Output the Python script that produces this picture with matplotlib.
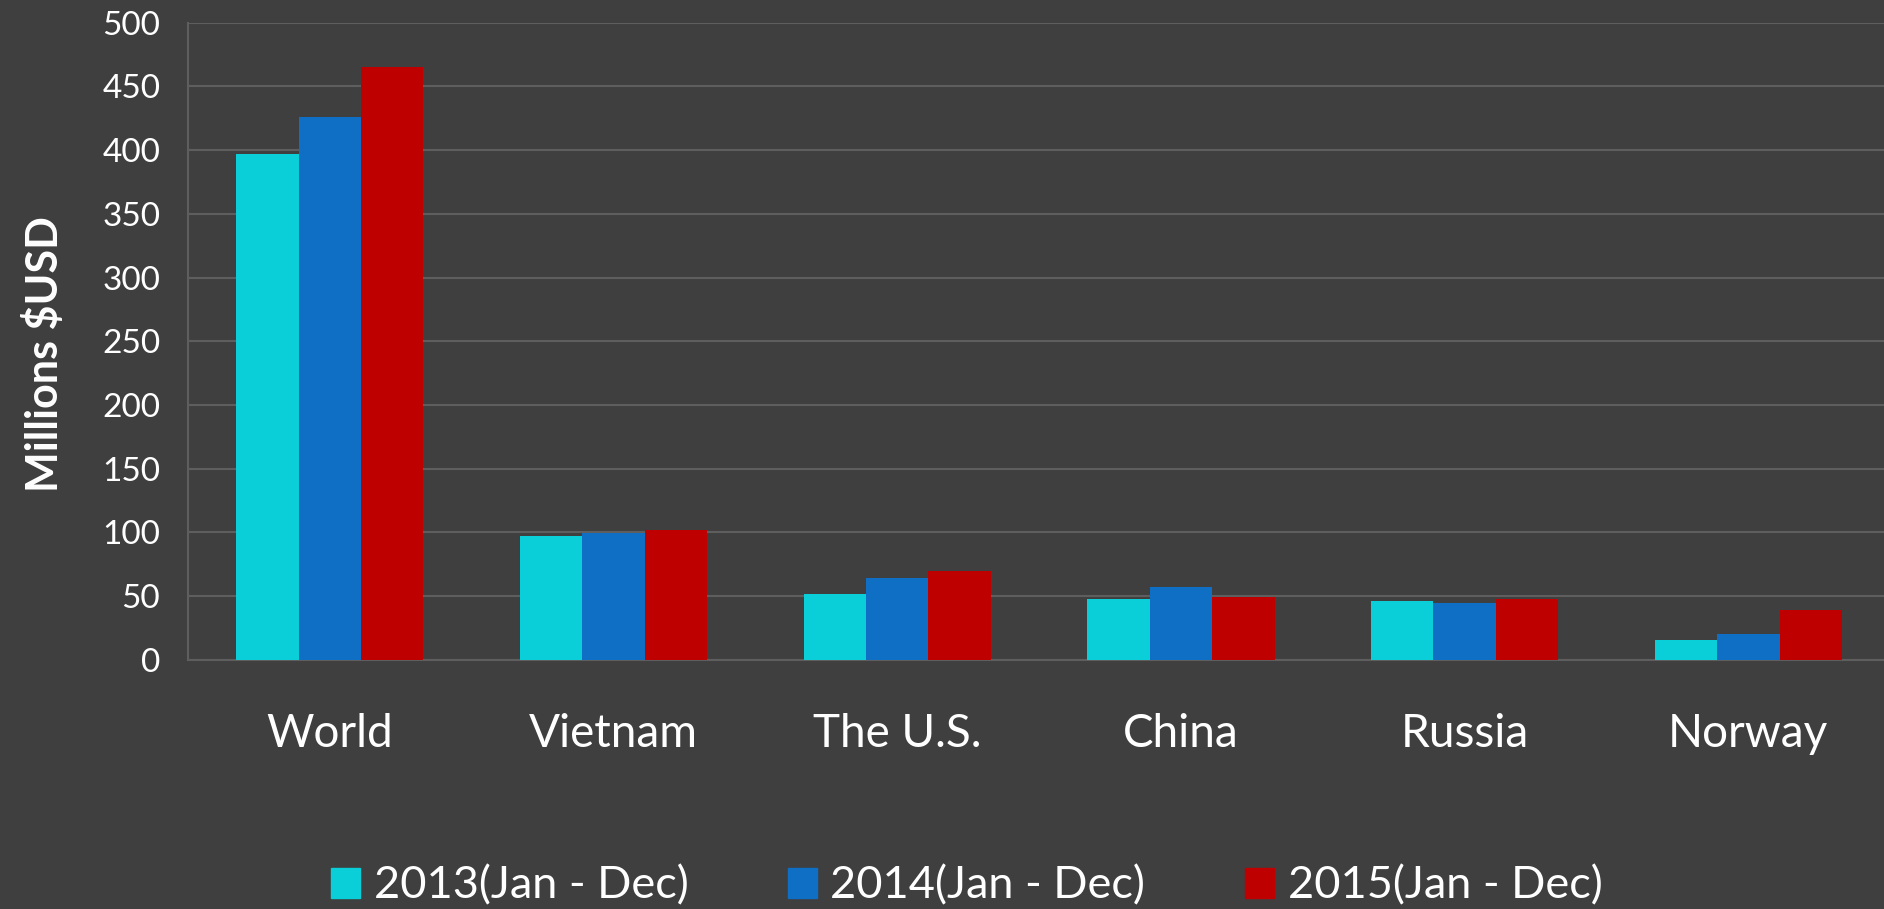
import numpy as np
import matplotlib.pyplot as plt
from matplotlib.patches import Patch

countries = ["World", "Vietnam", "The U.S.", "China", "Russia", "Norway"]
years = ["2013(Jan - Dec)", "2014(Jan - Dec)", "2015(Jan - Dec)"]
v2013 = [397, 97.5, 52, 47.5, 46.5, 16]
v2014 = [426, 99.5, 64.5, 57.5, 44.5, 20]
v2015 = [465, 102, 69.5, 49, 47.5, 39.5]
colors = ["#0BCFD8", "#0E6FC4", "#BF0000"]

bg = "#3F3F3F"
grid = "#5E5E5E"
plt.rcParams['font.family'] = ['Lato', 'DejaVu Sans']

fig = plt.figure(figsize=(18.84, 9.09), dpi=100, facecolor=bg)
ax = fig.add_axes([0.0998, 0.274, 0.9035, 0.701])
ax.set_facecolor(bg)

x = np.arange(len(countries))
w = 0.22
for i, vals in enumerate([v2013, v2014, v2015]):
    ax.bar(x + (i - 1) * w, vals, w, color=colors[i], zorder=3)

ax.set_xlim(-0.5, len(countries) - 0.5)
ax.set_ylim(0, 500)
ax.set_yticks(np.arange(0, 501, 50))
ax.yaxis.grid(True, color=grid, linewidth=1.5, zorder=0)
ax.set_axisbelow(True)
for s in ["top", "right"]:
    ax.spines[s].set_visible(False)
for s in ["left", "bottom"]:
    ax.spines[s].set_color(grid)
    ax.spines[s].set_linewidth(1.5)

ax.set_xticks(x)
ax.set_xticklabels(countries, fontsize=33, color="white")
ax.tick_params(axis="x", length=0, pad=38)
ax.tick_params(axis="y", length=0, pad=20, labelsize=24, labelcolor="white")

ax.set_ylabel("Millions $USD", fontsize=31, fontweight="bold", color="white", va="center")
ax.yaxis.set_label_coords(-0.0846, 0.48)

handles = [Patch(color=c) for c in colors]
fig.legend(handles, years, loc="center", bbox_to_anchor=(0.513, 0.025), ncol=3,
           frameon=False, fontsize=32.5, labelcolor="white",
           handlelength=0.65, handleheight=0.65, handletextpad=0.3, columnspacing=2.2)

fig.savefig("out.png", dpi=100, facecolor=bg)
